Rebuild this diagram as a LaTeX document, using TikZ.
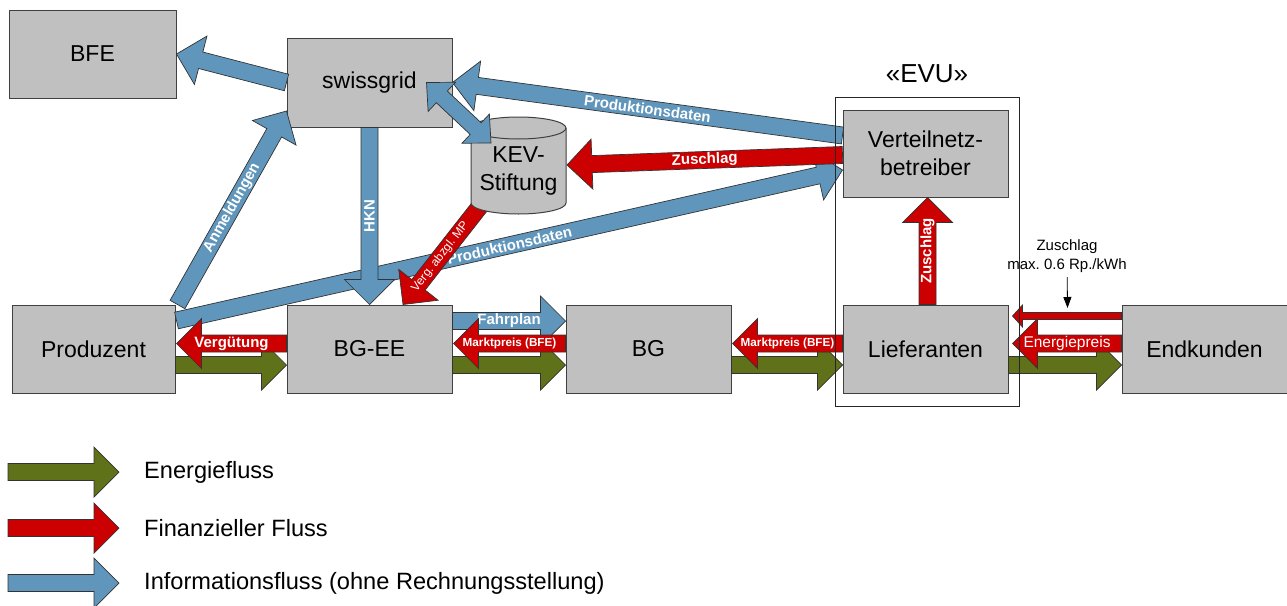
\documentclass[tikz,border=0pt]{standalone}
\usepackage{fontspec}
\setmainfont{Liberation Sans}
\usetikzlibrary{calc,arrows.meta}
\frenchspacing

\definecolor{boxgrey}{RGB}{192,192,192}
\definecolor{boxedge}{RGB}{64,64,64}
\definecolor{infoblue}{RGB}{96,150,188}
\definecolor{finred}{RGB}{204,0,0}
\definecolor{energygreen}{RGB}{95,113,25}

\newcommand{\boxfont}{\fontsize{23}{28}\selectfont}
\newcommand{\labfont}{\bfseries\fontsize{15}{18}\selectfont}
\newcommand{\notefont}{\fontsize{15}{19}\selectfont}

% arrow size: half shaft, half head, head length
\newcommand{\shaftw}{8.5pt}
\newcommand{\headw}{25pt}
\newcommand{\headl}{25pt}

% block arrow from #2 to #3
\newcommand{\flowarrow}[3][]{%
  \coordinate (fa) at (#2);
  \coordinate (fb) at (#3);
  \draw[flow,#1] ($(fa)!\shaftw!90:(fb)$) -- ($(fb)!\headl!(fa)!\shaftw!-90:(fa)$)
    -- ($(fb)!\headl!(fa)!\headw!-90:(fa)$) -- (fb)
    -- ($(fb)!\headl!(fa)!\headw!90:(fa)$) -- ($(fb)!\headl!(fa)!\shaftw!90:(fa)$)
    -- ($(fa)!\shaftw!-90:(fb)$) -- cycle;}
% block arrow with two heads
\newcommand{\biflowarrow}[3][]{%
  \coordinate (fa) at (#2);
  \coordinate (fb) at (#3);
  \draw[flow,#1] (fa) -- ($(fa)!\headl!(fb)!\headw!90:(fb)$) -- ($(fa)!\headl!(fb)!\shaftw!90:(fb)$)
    -- ($(fb)!\headl!(fa)!\shaftw!-90:(fa)$) -- ($(fb)!\headl!(fa)!\headw!-90:(fa)$) -- (fb)
    -- ($(fb)!\headl!(fa)!\headw!90:(fa)$) -- ($(fb)!\headl!(fa)!\shaftw!90:(fa)$)
    -- ($(fa)!\headl!(fb)!\shaftw!-90:(fb)$) -- ($(fa)!\headl!(fb)!\headw!-90:(fb)$) -- cycle;}
\newcommand{\flowlabel}[2][]{\path (fa) -- (fb) node[lab, midway, sloped, #1] {#2};}

\begin{document}
\begin{tikzpicture}[x=1pt, y=-1pt,
  box/.style = {draw=boxedge, line width=1pt, fill=boxgrey, minimum width=165pt, minimum height=88pt, inner sep=0pt, align=center, font=\boxfont},
  flow/.style = {draw=black!80, line width=0.7pt},
  energy/.style = {fill=energygreen},
  fin/.style = {fill=finred},
  info/.style = {fill=infoblue},
  lab/.style = {text=white, inner sep=0pt, font=\labfont},
  smalllab/.style = {font=\bfseries\fontsize{11.7}{14}\selectfont},
  thinlab/.style = {font=\fontsize{15.5}{18}\selectfont},
  tinylab/.style = {font=\fontsize{12}{14}\selectfont},
  note/.style = {align=center, inner sep=0pt, font=\notefont},
  legtext/.style = {anchor=west, inner sep=0pt, font=\fontsize{23.6}{28}\selectfont}]
\useasboundingbox (0,0) rectangle (1287,605);

% boxes
\node[box, minimum width=167pt] (bfe) at (92.5,54) {BFE};
\node[box, minimum height=89pt] (sg) at (369.5,82.5) {swissgrid};
\node[box, minimum height=87pt] (vnb) at (925.5,153.5) {Verteilnetz-\\betreiber};
\node[box, minimum width=163pt] (prod) at (93.5,349) {Produzent};
\node[box] (bgee) at (369.5,349) {BG-EE};
\node[box] (bg) at (648.5,349) {BG};
\node[box] (lief) at (925.5,349) {Lieferanten};
\node[box] (endk) at (1204.5,349) {Endkunden};
\coordinate (kevc) at (518.5,171);

% energy
\foreach \a/\b in {prod/bgee, bgee/bg, bg/lief, lief/endk}
  \flowarrow[energy]{$(\a.east)+(0,16)$}{$(\b.west)+(0,16)$};

% information
\flowarrow[info]{sg.west}{bfe.east}
\flowarrow[info]{$(prod.north east)+(2,0)$}{$(sg.south west)+(0,-16.5)$}
\flowlabel{Anmeldungen}
\flowarrow[info]{$(vnb.west)+(0,-18)$}{sg.east}
\flowlabel{Produktionsdaten}
\flowarrow[info]{$(prod.north east)+(1,16)$}{$(vnb.west)+(0,16.5)$}
\flowlabel{Produktionsdaten}
\flowarrow[info]{sg.south}{bgee.north}
\path (fa) -- (fb) node[lab, midway, rotate=90] {HKN};
\flowarrow[info]{$(bgee.east)+(0,-28)$}{$(bg.west)+(0,-28)$}
\flowlabel{Fahrplan}

% finance
\flowarrow[fin]{$(kevc)+(-36,32)$}{$(bgee.north)+(33.5,0)$}
\flowlabel[tinylab, pos=.53]{Verg. abzgl. MP}
\flowarrow[fin]{$(bgee.west)+(0,-5.5)$}{$(prod.east)+(1,-5.5)$}
\flowlabel{Vergütung}
\flowarrow[fin]{$(bg.west)+(0,-5.5)$}{$(bgee.east)+(1,-5.5)$}
\flowlabel[smalllab]{Marktpreis (BFE)}
\flowarrow[fin]{$(lief.west)+(0,-5.5)$}{$(bg.east)+(1,-5.5)$}
\flowlabel[smalllab]{Marktpreis (BFE)}
\flowarrow[fin]{$(vnb.west)+(0,1.5)$}{$(kevc)+(48.5,-6)$}
\flowlabel{Zuschlag}
\flowarrow[fin]{$(lief.north)+(2,0)$}{$(vnb.south)+(2,0)$}
\path (fa) -- (fb) node[lab, midway, rotate=90] {Zuschlag};
{\renewcommand{\shaftw}{3.5pt}\renewcommand{\headw}{11pt}\renewcommand{\headl}{10pt}
\flowarrow[fin]{$(endk.west)+(0,-33)$}{$(lief.east)+(4,-33)$}}
\flowarrow[fin]{$(endk.west)+(0,-5.5)$}{$(lief.east)+(4,-5.5)$}
\flowlabel[thinlab]{Energiepreis}

% KEV-Stiftung
\filldraw[draw=boxedge, line width=1pt, fill=boxgrey] ($(kevc)+(-47.5,-43)$) -- ($(kevc)+(-47.5,32)$)
  arc[start angle=180, end angle=0, x radius=47.5, y radius=11] -- ($(kevc)+(47.5,-43)$)
  arc[start angle=0, end angle=-180, x radius=47.5, y radius=11] -- cycle;
\draw[boxedge, line width=1pt] ($(kevc)+(-47.5,-43)$) arc[start angle=180, end angle=0, x radius=47.5, y radius=11];
\node[align=center, inner sep=0pt, font=\boxfont] (kev) at (kevc) {KEV-\\Stiftung};
{\renewcommand{\shaftw}{8pt}\renewcommand{\headw}{20pt}\renewcommand{\headl}{21pt}
\biflowarrow[info]{$(sg.east)+(-26,0)$}{$(kevc)+(-27.5,-28)$}}

% EVU
\node[draw=black!85, line width=0.8pt, minimum width=184pt, minimum height=309pt] (evu) at (927,251.5) {};
\node[font=\fontsize{26}{30}\selectfont] (evutitle) at (927,74) {«EVU»};

% note on the surcharge
\node[note] (zsnote) at (1067,256) {Zuschlag\\max. 0.6 Rp./kWh};
\coordinate (zstip) at ($(lief.east)+(59,-41)$);
\draw[line width=0.8pt, shorten <=4.5pt, -{Triangle[length=11pt, width=8pt]}] (zsnote) -- (zstip);

% legend
\foreach \ly/\lc/\lt [count=\i] in {472/energygreen/Energiefluss, 528/finred/Finanzieller Fluss, 583/infoblue/Informationsfluss (ohne Rechnungsstellung)} {
  \node[legtext] (leg\i) at (144,\ly) {\lt};
  \flowarrow[fill=\lc]{$(leg\i.west)+(-136,0)$}{$(leg\i.west)+(-25,0)$}
}
\end{tikzpicture}
\end{document}
